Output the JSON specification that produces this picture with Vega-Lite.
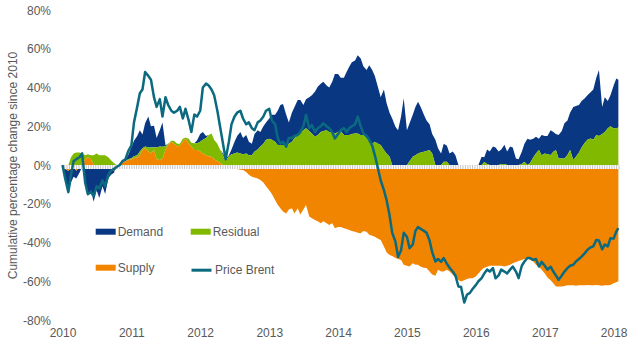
{
"$schema":"https://vega.github.io/schema/vega-lite/v6.json",
"width":557,"height":310,
"autosize":{"type":"none"},
"padding":{"left":62.5,"top":10,"right":20.5,"bottom":37},
"background":"white",
"config":{"view":{"stroke":null},"font":"Liberation Sans",
 "axisX":{"title":null,"format":"%Y","tickCount":{"interval":"year","step":1},"domain":false,"ticks":false,"grid":false,"labelFlush":false,"labelOverlap":false,"labelPadding":7,"labelFontSize":12,"labelColor":"#595959","labelFont":"Liberation Sans"},
 "axisY":{"values":[-80,-60,-40,-20,0,20,40,60,80],"labelExpr":"datum.value + '%'","labelOverlap":false,"labelFlush":false,"domain":false,"ticks":false,"grid":false,"labelPadding":12,"labelFontSize":12,"labelColor":"#595959","labelFont":"Liberation Sans","titleFont":"Liberation Sans","titleFontSize":12,"titleFontWeight":"normal","titleColor":"#595959","titleX":-50.5,"titleY":155,"titleAngle":-90,"titleAlign":"center","titleBaseline":"middle"}
},
"data":{"values":[
{"date":"2010-01-01","Demand":0,"Residual":0,"Supply":0,"Price Brent":0},
{"date":"2010-01-15","Demand":-6,"Residual":0,"Supply":-2,"Price Brent":-7},
{"date":"2010-02-01","Demand":-11,"Residual":0,"Supply":-3,"Price Brent":-14},
{"date":"2010-02-15","Demand":-7,"Residual":4,"Supply":-2,"Price Brent":-5},
{"date":"2010-03-01","Demand":-5,"Residual":6,"Supply":-1,"Price Brent":2},
{"date":"2010-03-15","Demand":-4,"Residual":6.5,"Supply":-3,"Price Brent":3},
{"date":"2010-04-01","Demand":-3,"Residual":6.5,"Supply":-1,"Price Brent":4},
{"date":"2010-04-15","Demand":-1,"Residual":6,"Supply":0,"Price Brent":6},
{"date":"2010-05-01","Demand":-9,"Residual":2,"Supply":3,"Price Brent":-9},
{"date":"2010-05-15","Demand":-16,"Residual":1.5,"Supply":4,"Price Brent":-15},
{"date":"2010-06-01","Demand":-13,"Residual":2,"Supply":3,"Price Brent":-14},
{"date":"2010-06-15","Demand":-19,"Residual":5,"Supply":0,"Price Brent":-16},
{"date":"2010-07-01","Demand":-13,"Residual":6,"Supply":0,"Price Brent":-11},
{"date":"2010-07-15","Demand":-17,"Residual":5,"Supply":0,"Price Brent":-12},
{"date":"2010-08-01","Demand":-11,"Residual":5,"Supply":0,"Price Brent":-8},
{"date":"2010-08-15","Demand":-15,"Residual":5,"Supply":0,"Price Brent":-11},
{"date":"2010-09-01","Demand":-7,"Residual":4,"Supply":0,"Price Brent":-5},
{"date":"2010-09-15","Demand":-3,"Residual":2.5,"Supply":-2,"Price Brent":-3},
{"date":"2010-10-01","Demand":-1,"Residual":1,"Supply":-3,"Price Brent":-2},
{"date":"2010-10-15","Demand":0,"Residual":0,"Supply":-2,"Price Brent":-1},
{"date":"2010-11-01","Demand":0,"Residual":0,"Supply":1,"Price Brent":0},
{"date":"2010-11-15","Demand":0.5,"Residual":0,"Supply":1.5,"Price Brent":2},
{"date":"2010-12-01","Demand":1,"Residual":0,"Supply":2,"Price Brent":3},
{"date":"2010-12-15","Demand":2,"Residual":0.5,"Supply":2.5,"Price Brent":7},
{"date":"2011-01-01","Demand":5.5,"Residual":0.5,"Supply":3,"Price Brent":10},
{"date":"2011-01-15","Demand":8,"Residual":1,"Supply":3.5,"Price Brent":22},
{"date":"2011-02-01","Demand":10,"Residual":1,"Supply":4,"Price Brent":30},
{"date":"2011-02-15","Demand":11,"Residual":2,"Supply":5,"Price Brent":37},
{"date":"2011-03-01","Demand":7,"Residual":1,"Supply":7.7,"Price Brent":39},
{"date":"2011-03-15","Demand":12,"Residual":1,"Supply":8.6,"Price Brent":48},
{"date":"2011-04-01","Demand":16,"Residual":2,"Supply":7,"Price Brent":46},
{"date":"2011-04-15","Demand":11,"Residual":3,"Supply":6,"Price Brent":44},
{"date":"2011-05-01","Demand":11,"Residual":1.5,"Supply":7.7,"Price Brent":35},
{"date":"2011-05-15","Demand":5,"Residual":6,"Supply":3,"Price Brent":30},
{"date":"2011-06-01","Demand":8.5,"Residual":7,"Supply":2.6,"Price Brent":34},
{"date":"2011-06-15","Demand":12.5,"Residual":6,"Supply":3.4,"Price Brent":25},
{"date":"2011-07-01","Demand":0.5,"Residual":2,"Supply":7.7,"Price Brent":35},
{"date":"2011-07-15","Demand":0,"Residual":0.7,"Supply":10.3,"Price Brent":31},
{"date":"2011-08-01","Demand":0,"Residual":0.5,"Supply":12,"Price Brent":28},
{"date":"2011-08-15","Demand":0,"Residual":1.5,"Supply":11,"Price Brent":27},
{"date":"2011-09-01","Demand":0,"Residual":1.5,"Supply":9.5,"Price Brent":28},
{"date":"2011-09-15","Demand":0,"Residual":1,"Supply":10,"Price Brent":30},
{"date":"2011-10-01","Demand":0,"Residual":1.5,"Supply":12,"Price Brent":24},
{"date":"2011-10-15","Demand":0,"Residual":0.5,"Supply":13.7,"Price Brent":29},
{"date":"2011-11-01","Demand":0,"Residual":2.5,"Supply":11,"Price Brent":23},
{"date":"2011-11-15","Demand":0,"Residual":2,"Supply":9.5,"Price Brent":17},
{"date":"2011-12-01","Demand":0,"Residual":3.5,"Supply":7.7,"Price Brent":26},
{"date":"2011-12-15","Demand":1.5,"Residual":3.5,"Supply":7.7,"Price Brent":25},
{"date":"2012-01-01","Demand":4,"Residual":5,"Supply":7,"Price Brent":28},
{"date":"2012-01-15","Demand":4,"Residual":7,"Supply":6,"Price Brent":40},
{"date":"2012-02-01","Demand":1,"Residual":9,"Supply":5,"Price Brent":42},
{"date":"2012-02-15","Demand":0,"Residual":11,"Supply":4.5,"Price Brent":41},
{"date":"2012-03-01","Demand":0,"Residual":12,"Supply":4.3,"Price Brent":39},
{"date":"2012-03-15","Demand":0,"Residual":10,"Supply":3,"Price Brent":36},
{"date":"2012-04-01","Demand":0,"Residual":9,"Supply":2,"Price Brent":28},
{"date":"2012-04-15","Demand":0,"Residual":7,"Supply":1,"Price Brent":20},
{"date":"2012-05-01","Demand":1,"Residual":5,"Supply":0,"Price Brent":11},
{"date":"2012-05-15","Demand":1,"Residual":2,"Supply":-1.5,"Price Brent":3},
{"date":"2012-06-01","Demand":0.5,"Residual":4.5,"Supply":-1,"Price Brent":12},
{"date":"2012-06-15","Demand":2.5,"Residual":5.5,"Supply":-1,"Price Brent":21},
{"date":"2012-07-01","Demand":6,"Residual":6,"Supply":-1.5,"Price Brent":25},
{"date":"2012-07-15","Demand":8.5,"Residual":6.5,"Supply":-2,"Price Brent":27},
{"date":"2012-08-01","Demand":11,"Residual":6,"Supply":-2.5,"Price Brent":28},
{"date":"2012-08-15","Demand":8.5,"Residual":5.5,"Supply":-2.6,"Price Brent":24},
{"date":"2012-09-01","Demand":9.5,"Residual":6,"Supply":-3.6,"Price Brent":21},
{"date":"2012-09-15","Demand":7,"Residual":5,"Supply":-5,"Price Brent":22},
{"date":"2012-10-01","Demand":6,"Residual":5,"Supply":-6,"Price Brent":19},
{"date":"2012-10-15","Demand":9,"Residual":7,"Supply":-6.5,"Price Brent":18},
{"date":"2012-11-01","Demand":10,"Residual":8,"Supply":-7,"Price Brent":22},
{"date":"2012-11-15","Demand":7.5,"Residual":9.5,"Supply":-7.7,"Price Brent":23},
{"date":"2012-12-01","Demand":9,"Residual":11,"Supply":-9,"Price Brent":25},
{"date":"2012-12-15","Demand":9,"Residual":13,"Supply":-11,"Price Brent":28},
{"date":"2013-01-01","Demand":10.5,"Residual":13.5,"Supply":-13,"Price Brent":29},
{"date":"2013-01-15","Demand":13,"Residual":13,"Supply":-15,"Price Brent":23},
{"date":"2013-02-01","Demand":14,"Residual":12,"Supply":-18,"Price Brent":21},
{"date":"2013-02-15","Demand":17.7,"Residual":10.3,"Supply":-20.5,"Price Brent":14},
{"date":"2013-03-01","Demand":20.7,"Residual":10.3,"Supply":-22.3,"Price Brent":11},
{"date":"2013-03-15","Demand":21.2,"Residual":10.3,"Supply":-24,"Price Brent":12},
{"date":"2013-04-01","Demand":15.5,"Residual":10.5,"Supply":-25,"Price Brent":9.5},
{"date":"2013-04-15","Demand":11,"Residual":11,"Supply":-23,"Price Brent":14},
{"date":"2013-05-01","Demand":15,"Residual":12,"Supply":-22.3,"Price Brent":14},
{"date":"2013-05-15","Demand":16,"Residual":14,"Supply":-25,"Price Brent":15},
{"date":"2013-06-01","Demand":18,"Residual":15.5,"Supply":-22.3,"Price Brent":15.5},
{"date":"2013-06-15","Demand":17,"Residual":16.5,"Supply":-25.5,"Price Brent":17},
{"date":"2013-07-01","Demand":13,"Residual":18,"Supply":-23,"Price Brent":20},
{"date":"2013-07-15","Demand":15,"Residual":19,"Supply":-20.6,"Price Brent":25.8},
{"date":"2013-08-01","Demand":17.5,"Residual":17.5,"Supply":-26.6,"Price Brent":19},
{"date":"2013-08-15","Demand":19.7,"Residual":16.3,"Supply":-27.5,"Price Brent":20.6},
{"date":"2013-09-01","Demand":23.4,"Residual":14.6,"Supply":-28.4,"Price Brent":17},
{"date":"2013-09-15","Demand":24.9,"Residual":15.5,"Supply":-29,"Price Brent":19},
{"date":"2013-10-01","Demand":25,"Residual":17,"Supply":-30,"Price Brent":20},
{"date":"2013-10-15","Demand":25.5,"Residual":17.5,"Supply":-29,"Price Brent":21.5},
{"date":"2013-11-01","Demand":23,"Residual":18,"Supply":-30,"Price Brent":20},
{"date":"2013-11-15","Demand":23,"Residual":17,"Supply":-31,"Price Brent":19},
{"date":"2013-12-01","Demand":26.5,"Residual":16.5,"Supply":-30,"Price Brent":17},
{"date":"2013-12-15","Demand":30.7,"Residual":16.3,"Supply":-32.6,"Price Brent":13.7},
{"date":"2014-01-01","Demand":30,"Residual":17,"Supply":-32,"Price Brent":16},
{"date":"2014-01-15","Demand":27.5,"Residual":17.5,"Supply":-32,"Price Brent":18},
{"date":"2014-02-01","Demand":29.5,"Residual":15.5,"Supply":-32.6,"Price Brent":19},
{"date":"2014-02-15","Demand":32.5,"Residual":15.5,"Supply":-33,"Price Brent":17},
{"date":"2014-03-01","Demand":35.2,"Residual":15.5,"Supply":-33.5,"Price Brent":19},
{"date":"2014-03-15","Demand":37,"Residual":16,"Supply":-34,"Price Brent":20},
{"date":"2014-04-01","Demand":37.7,"Residual":16.3,"Supply":-34.4,"Price Brent":21},
{"date":"2014-04-15","Demand":40.4,"Residual":16.3,"Supply":-35,"Price Brent":25},
{"date":"2014-05-01","Demand":39.5,"Residual":15.5,"Supply":-35.2,"Price Brent":20},
{"date":"2014-05-15","Demand":35.5,"Residual":15.5,"Supply":-34,"Price Brent":16.3},
{"date":"2014-06-01","Demand":35,"Residual":14,"Supply":-34.5,"Price Brent":15},
{"date":"2014-06-15","Demand":38.6,"Residual":12.9,"Supply":-36,"Price Brent":13},
{"date":"2014-07-01","Demand":38,"Residual":11,"Supply":-36.5,"Price Brent":10},
{"date":"2014-07-15","Demand":34,"Residual":12,"Supply":-37,"Price Brent":5},
{"date":"2014-08-01","Demand":29,"Residual":11,"Supply":-38,"Price Brent":-2},
{"date":"2014-08-15","Demand":24.7,"Residual":10.3,"Supply":-38.7,"Price Brent":-8},
{"date":"2014-09-01","Demand":31.3,"Residual":7.7,"Supply":-42,"Price Brent":-13},
{"date":"2014-09-15","Demand":26,"Residual":6,"Supply":-45,"Price Brent":-18},
{"date":"2014-10-01","Demand":22.7,"Residual":4.3,"Supply":-46.4,"Price Brent":-26},
{"date":"2014-10-15","Demand":24,"Residual":0,"Supply":-47,"Price Brent":-35},
{"date":"2014-11-01","Demand":19.8,"Residual":0,"Supply":-48,"Price Brent":-39.5},
{"date":"2014-11-15","Demand":18,"Residual":0,"Supply":-48.5,"Price Brent":-47.5},
{"date":"2014-12-01","Demand":25,"Residual":0,"Supply":-49,"Price Brent":-44},
{"date":"2014-12-15","Demand":34.4,"Residual":0,"Supply":-51.5,"Price Brent":-35},
{"date":"2015-01-01","Demand":18,"Residual":0,"Supply":-52,"Price Brent":-37},
{"date":"2015-01-15","Demand":19.5,"Residual":2,"Supply":-52.4,"Price Brent":-43},
{"date":"2015-02-01","Demand":21.7,"Residual":4.3,"Supply":-50.7,"Price Brent":-41},
{"date":"2015-02-15","Demand":25,"Residual":5,"Supply":-51.5,"Price Brent":-34},
{"date":"2015-03-01","Demand":26.6,"Residual":6,"Supply":-51.5,"Price Brent":-32},
{"date":"2015-03-15","Demand":23.5,"Residual":6.5,"Supply":-52.5,"Price Brent":-33},
{"date":"2015-04-01","Demand":19.1,"Residual":6.9,"Supply":-53,"Price Brent":-34},
{"date":"2015-04-15","Demand":15.8,"Residual":7.2,"Supply":-53.2,"Price Brent":-35},
{"date":"2015-05-01","Demand":13.3,"Residual":7.7,"Supply":-55,"Price Brent":-39},
{"date":"2015-05-15","Demand":10,"Residual":6,"Supply":-56.5,"Price Brent":-45},
{"date":"2015-06-01","Demand":13,"Residual":0,"Supply":-57.2,"Price Brent":-49.8},
{"date":"2015-06-15","Demand":8.6,"Residual":0,"Supply":-54,"Price Brent":-48.5},
{"date":"2015-07-01","Demand":6,"Residual":0,"Supply":-55,"Price Brent":-50},
{"date":"2015-07-15","Demand":9.3,"Residual":1.7,"Supply":-55,"Price Brent":-48},
{"date":"2015-08-01","Demand":8.3,"Residual":1.7,"Supply":-54,"Price Brent":-51},
{"date":"2015-08-15","Demand":6,"Residual":0,"Supply":-55,"Price Brent":-53},
{"date":"2015-09-01","Demand":7,"Residual":0,"Supply":-56.7,"Price Brent":-55},
{"date":"2015-09-15","Demand":5,"Residual":0,"Supply":-58,"Price Brent":-57},
{"date":"2015-10-01","Demand":0,"Residual":0,"Supply":-59.3,"Price Brent":-62.7},
{"date":"2015-10-15","Demand":0,"Residual":0,"Supply":-60.1,"Price Brent":-63},
{"date":"2015-11-01","Demand":0,"Residual":0,"Supply":-59.5,"Price Brent":-71},
{"date":"2015-11-15","Demand":0,"Residual":0,"Supply":-58.9,"Price Brent":-67},
{"date":"2015-12-01","Demand":0,"Residual":0,"Supply":-58.5,"Price Brent":-66},
{"date":"2015-12-15","Demand":0,"Residual":0,"Supply":-58.4,"Price Brent":-64},
{"date":"2016-01-01","Demand":0,"Residual":0,"Supply":-57.6,"Price Brent":-62},
{"date":"2016-01-15","Demand":0,"Residual":0,"Supply":-56,"Price Brent":-60},
{"date":"2016-02-01","Demand":4.3,"Residual":0,"Supply":-54,"Price Brent":-58.4},
{"date":"2016-02-15","Demand":2.5,"Residual":1.5,"Supply":-53,"Price Brent":-56},
{"date":"2016-03-01","Demand":7.5,"Residual":0.5,"Supply":-52.5,"Price Brent":-54},
{"date":"2016-03-15","Demand":7,"Residual":0,"Supply":-52,"Price Brent":-55},
{"date":"2016-04-01","Demand":9.5,"Residual":0,"Supply":-52,"Price Brent":-53.2},
{"date":"2016-04-15","Demand":9,"Residual":0,"Supply":-52,"Price Brent":-58.5},
{"date":"2016-05-01","Demand":7,"Residual":0,"Supply":-52,"Price Brent":-57},
{"date":"2016-05-15","Demand":7.5,"Residual":0.5,"Supply":-52,"Price Brent":-54},
{"date":"2016-06-01","Demand":10,"Residual":0.5,"Supply":-52.4,"Price Brent":-55},
{"date":"2016-06-15","Demand":7,"Residual":0,"Supply":-52,"Price Brent":-56},
{"date":"2016-07-01","Demand":9.5,"Residual":0,"Supply":-51.5,"Price Brent":-54},
{"date":"2016-07-15","Demand":9,"Residual":0,"Supply":-50.7,"Price Brent":-52.4},
{"date":"2016-08-01","Demand":3.4,"Residual":0,"Supply":-50,"Price Brent":-55},
{"date":"2016-08-15","Demand":3,"Residual":0,"Supply":-49.5,"Price Brent":-58.4},
{"date":"2016-09-01","Demand":6.4,"Residual":0.5,"Supply":-49,"Price Brent":-52},
{"date":"2016-09-15","Demand":9.3,"Residual":1.7,"Supply":-48.5,"Price Brent":-49.8},
{"date":"2016-10-01","Demand":13.5,"Residual":0,"Supply":-48.1,"Price Brent":-48},
{"date":"2016-10-15","Demand":12,"Residual":1,"Supply":-49,"Price Brent":-48},
{"date":"2016-11-01","Demand":9.5,"Residual":4,"Supply":-49.8,"Price Brent":-49},
{"date":"2016-11-15","Demand":8.6,"Residual":6,"Supply":-51.5,"Price Brent":-48.5},
{"date":"2016-12-01","Demand":5.8,"Residual":7.7,"Supply":-52.5,"Price Brent":-52.4},
{"date":"2016-12-15","Demand":10.5,"Residual":5,"Supply":-54,"Price Brent":-50},
{"date":"2017-01-01","Demand":9,"Residual":6,"Supply":-56,"Price Brent":-52},
{"date":"2017-01-15","Demand":9.5,"Residual":5.5,"Supply":-58,"Price Brent":-54},
{"date":"2017-02-01","Demand":12.8,"Residual":5.2,"Supply":-59.5,"Price Brent":-52.5},
{"date":"2017-02-15","Demand":10.1,"Residual":6.9,"Supply":-61,"Price Brent":-55},
{"date":"2017-03-01","Demand":8.3,"Residual":7.7,"Supply":-62.7,"Price Brent":-57},
{"date":"2017-03-15","Demand":12.1,"Residual":3.4,"Supply":-62.7,"Price Brent":-59.3},
{"date":"2017-04-01","Demand":14.1,"Residual":3.4,"Supply":-62.7,"Price Brent":-57},
{"date":"2017-04-15","Demand":18.1,"Residual":3.4,"Supply":-62.5,"Price Brent":-55},
{"date":"2017-05-01","Demand":17.8,"Residual":5.2,"Supply":-62,"Price Brent":-53.2},
{"date":"2017-05-15","Demand":19.3,"Residual":7.7,"Supply":-62,"Price Brent":-52},
{"date":"2017-06-01","Demand":27.4,"Residual":2.6,"Supply":-62,"Price Brent":-51.5},
{"date":"2017-06-15","Demand":26.2,"Residual":4.3,"Supply":-62.3,"Price Brent":-49.8},
{"date":"2017-07-01","Demand":24.5,"Residual":6.5,"Supply":-62,"Price Brent":-48.5},
{"date":"2017-07-15","Demand":24,"Residual":9,"Supply":-62,"Price Brent":-47.3},
{"date":"2017-08-01","Demand":22.9,"Residual":11.5,"Supply":-62,"Price Brent":-45.5},
{"date":"2017-08-15","Demand":23,"Residual":13,"Supply":-61.9,"Price Brent":-43.8},
{"date":"2017-09-01","Demand":23.8,"Residual":13.7,"Supply":-62,"Price Brent":-42.5},
{"date":"2017-09-15","Demand":26,"Residual":13,"Supply":-62,"Price Brent":-42},
{"date":"2017-10-01","Demand":29.5,"Residual":15.5,"Supply":-61.9,"Price Brent":-38.7},
{"date":"2017-10-15","Demand":34,"Residual":15,"Supply":-62,"Price Brent":-39},
{"date":"2017-11-01","Demand":14,"Residual":16,"Supply":-62.3,"Price Brent":-43.5},
{"date":"2017-11-15","Demand":18,"Residual":17,"Supply":-62,"Price Brent":-41},
{"date":"2017-12-01","Demand":14,"Residual":19,"Supply":-62,"Price Brent":-42},
{"date":"2017-12-15","Demand":16,"Residual":20,"Supply":-61.9,"Price Brent":-37.8},
{"date":"2018-01-01","Demand":22.1,"Residual":18.9,"Supply":-61,"Price Brent":-38},
{"date":"2018-01-15","Demand":25.7,"Residual":19,"Supply":-60.5,"Price Brent":-34.4},
{"date":"2018-01-26","Demand":24.6,"Residual":19.4,"Supply":-60,"Price Brent":-32.6}
]},
"transform":[{"fold":["Demand","Residual","Supply","Price Brent"],"as":["series","value"]}],
"layer":[
{"transform":[{"filter":"datum.series !== 'Price Brent'"}],
 "mark":{"type":"area","interpolate":"linear"},
 "encoding":{
  "x":{"field":"date","type":"temporal","scale":{"type":"utc","domain":[{"year":2010,"month":1,"date":1,"utc":true},{"year":2018,"month":2,"date":1,"utc":true}]}},
  "y":{"field":"value","type":"quantitative","stack":"zero","title":"Cumulative percentage change since 2010","scale":{"domain":[-80,80],"nice":false,"zero":false}},
  "color":{"field":"series","type":"nominal","scale":{"domain":["Demand","Residual","Supply"],"range":["#0a3782","#80b900","#f28500"]},
       "legend":{"orient":"none","direction":"horizontal","legendX":33.2,"legendY":211.7,"title":null,"columns":2,"columnPadding":27,"rowPadding":20,"padding":0,"symbolType":"M-1,-0.3H1V0.3H-1Z","symbolSize":400,"symbolStrokeWidth":0,"symbolOpacity":1,"labelFontSize":12,"labelColor":"#595959","labelFont":"Liberation Sans","labelOffset":2}},
  "order":{"field":"series","sort":"descending"}
 }},
{"data":{"values":[{}]},"mark":{"type":"rule","color":"#ffffff","strokeWidth":4,"yOffset":2},"encoding":{"y":{"datum":0,"type":"quantitative"}}},
{"data":{"values":[{}]},"mark":{"type":"rule","color":"#c4c4c4","strokeWidth":4,"yOffset":2,"strokeDash":[1,1.4]},"encoding":{"y":{"datum":0,"type":"quantitative"}}},
{"transform":[{"filter":"datum.series === 'Price Brent'"}],
 "mark":{"type":"line","strokeWidth":2.5,"strokeJoin":"round"},
 "encoding":{
  "x":{"field":"date","type":"temporal"},
  "y":{"field":"value","type":"quantitative","title":"Cumulative percentage change since 2010"},
  "stroke":{"field":"series","type":"nominal","scale":{"domain":["Price Brent"],"range":["#0b6a7f"]},
       "legend":{"orient":"none","legendX":127.5,"legendY":248.7,"title":null,"padding":0,"symbolType":"stroke","symbolSize":400,"symbolStrokeWidth":3,"labelFontSize":12,"labelColor":"#595959","labelFont":"Liberation Sans","labelOffset":2}}
 }}
]
}
